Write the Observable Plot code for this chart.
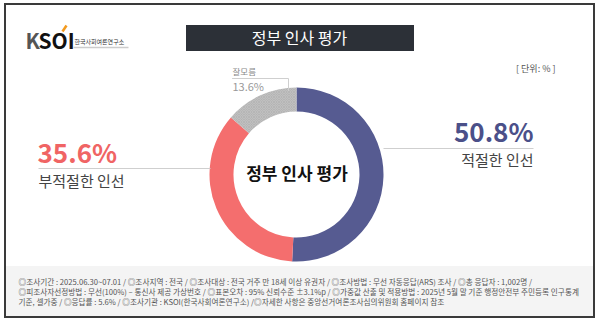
<!DOCTYPE html>
<html><head><meta charset="utf-8">
<script src="https://cdn.jsdelivr.net/npm/d3@7"></script>
<script src="https://cdn.jsdelivr.net/npm/@observablehq/plot@0.6"></script>
<style>body{margin:0;background:#fff} svg{display:block}</style>
</head><body><div id="chart"></div>
<script>
// ---- data ----
const categories = ["적절한 인선", "부적절한 인선", "잘모름"];
const values = [50.8, 35.6, 13.6];
const valueLabels = ["50.8%", "35.6%", "13.6%"];
const colors = ["#565b91", "#f46e6e", "#c4c4c4"];
const title = "정부 인사 평가";
const centerLabel = "정부 인사 평가";
const unitLabel = "[ 단위: % ]";
const logoText = "한국사회여론연구소";
const footerLines = [
  "◎조사기간 : 2025.06.30~07.01 / ◎조사지역 : 전국 / ◎조사대상 : 전국 거주 만 18세 이상 유권자 / ◎조사방법 : 무선 자동응답(ARS) 조사 / ◎총 응답자 : 1,002명 /",
  "◎피조사자선정방법 : 무선(100%) – 통신사 제공 가상번호 / ◎표본오차 : 95% 신뢰수준 ±3.1%p / ◎가중값 산출 및 적용방법 : 2025년 5월 말 기준 행정안전부 주민등록 인구통계",
  "기준, 셀가중 / ◎응답률 : 5.6% / ◎조사기관 : KSOI(한국사회여론연구소) /◎자세한 사항은 중앙선거여론조사심의위원회 홈페이지 참조"
];

const W = 600, H = 324;
const font = "'Noto Sans CJK KR', 'Noto Sans', sans-serif";
const C = {x: 296.5, y: 174.5}, R0 = 63, R1 = 87;

function donut(index, scales) {
  const g = d3.create("svg:g");
  const defs = g.append("defs");
  const pat = defs.append("pattern").attr("id", "hatch").attr("width", 2.5).attr("height", 2.5).attr("patternUnits", "userSpaceOnUse");
  pat.append("rect").attr("width", 2.5).attr("height", 2.5).attr("fill", "#c6c6c6");
  pat.append("path").attr("d", "M0,0L2.5,2.5M2.5,0L0,2.5").attr("stroke", "#a6a6a6").attr("stroke-width", 0.5);
  const pie = d3.pie().sort(null)(values);
  const arc = d3.arc().innerRadius(R0).outerRadius(R1);
  g.append("g").attr("transform", `translate(${scales.x(C.x)},${scales.y(C.y)})`)
    .selectAll("path").data(pie).join("path")
    .attr("d", arc)
    .attr("fill", (d, i) => i === 2 ? "url(#hatch)" : colors[i]);
  return g.node();
}

const chart = Plot.plot({
  width: W, height: H, margin: 0,
  x: {domain: [0, W], range: [0, W], axis: null},
  y: {domain: [0, H], range: [0, H], axis: null},
  style: {fontFamily: font, background: "#fff", overflow: "visible"},
  marks: [
    // footer background
    Plot.rect([{a: 6, b: 593, c: 266, d: 316}], {x1: "a", x2: "b", y1: "c", y2: "d", fill: "#f4f4f4"}),
    // frame
    Plot.rect([{a: 5, b: 594, c: 4, d: 317}], {x1: "a", x2: "b", y1: "c", y2: "d", fill: "none", stroke: "#3a3a3a", strokeWidth: 2}),
    // title box
    Plot.rect([{a: 186, b: 414, c: 25, d: 51}], {x1: "a", x2: "b", y1: "c", y2: "d", fill: "#2c3037"}),
    Plot.text([title], {x: () => 299, y: () => 38, text: d => d, fill: "#fff", fontSize: 16, textAnchor: "middle"}),
    // logo
    Plot.text(["K"], {x: () => 25, y: () => 42, text: d => d, fill: "#555", fontSize: 21, fontWeight: "bold", textAnchor: "start"}),
    Plot.text(["SOI"], {x: () => 38, y: () => 42, text: d => d, fill: "#111", fontSize: 21, fontWeight: "bold", textAnchor: "start"}),
    Plot.link([{a: 62, b: 31, c: 66, d: 25}], {x1: "a", y1: "b", x2: "c", y2: "d", stroke: "#f39a1e", strokeWidth: 2.5}),
    Plot.text([logoText], {x: () => 74, y: () => 42, text: d => d, fill: "#333", fontSize: 6, textAnchor: "start"}),
    Plot.link([{a: 73, b: 47, c: 128, d: 47}], {x1: "a", y1: "b", x2: "c", y2: "d", stroke: "#ccc", strokeWidth: 1.5}),
    // unit
    Plot.text([unitLabel], {x: () => 555, y: () => 69, text: d => d, fill: "#555", fontSize: 9, textAnchor: "end"}),
    // donut
    donut,
    Plot.text([centerLabel], {x: () => C.x, y: () => C.y, text: d => d, fill: "#111", fontSize: 17, fontWeight: "bold", textAnchor: "middle"}),
    // leader lines
    Plot.link([{a: 383, b: 148, c: 533, d: 148}, {a: 38, b: 168, c: 210, d: 168}], {x1: "a", y1: "b", x2: "c", y2: "d", stroke: "#cfcfcf", strokeWidth: 1}),
    Plot.line([{x: 232, y: 78}, {x: 288, y: 78}, {x: 288, y: 90}], {x: "x", y: "y", stroke: "#cfcfcf", strokeWidth: 1}),
    // value labels
    Plot.text([valueLabels[0]], {x: () => 533, y: () => 133, text: d => d, fill: "#4b5089", fontSize: 26, fontWeight: "bold", textAnchor: "end"}),
    Plot.text([categories[0]], {x: () => 533, y: () => 161, text: d => d, fill: "#444", fontSize: 15, textAnchor: "end"}),
    Plot.text([valueLabels[1]], {x: () => 37, y: () => 154, text: d => d, fill: "#f06464", fontSize: 26, fontWeight: "bold", textAnchor: "start"}),
    Plot.text([categories[1]], {x: () => 38, y: () => 182, text: d => d, fill: "#444", fontSize: 15, textAnchor: "start"}),
    Plot.text([categories[2]], {x: () => 232, y: () => 72, text: d => d, fill: "#888", fontSize: 8.5, textAnchor: "start"}),
    Plot.text([valueLabels[2]], {x: () => 232, y: () => 87, text: d => d, fill: "#999", fontSize: 11, textAnchor: "start"}),
    // footer
    Plot.text(footerLines, {x: () => 18, y: (d, i) => 282.5 + i * 10, text: d => d, fill: "#555", fontSize: 7.65, textAnchor: "start", ariaLabel: "footer"})
  ]
});

// bold the field labels in the footer
d3.select(chart).selectAll('g[aria-label="footer"] text').each(function() {
  const t = d3.select(this);
  const s = t.text();
  t.text(null);
  s.split(/(◎[^:/◎]+:)/).filter(p => p).forEach(p => {
    t.append("tspan").text(p).attr("font-weight", /^◎[^:]+:$/.test(p) ? "bold" : null);
  });
});

document.getElementById("chart").append(chart);
</script>
</body></html>
